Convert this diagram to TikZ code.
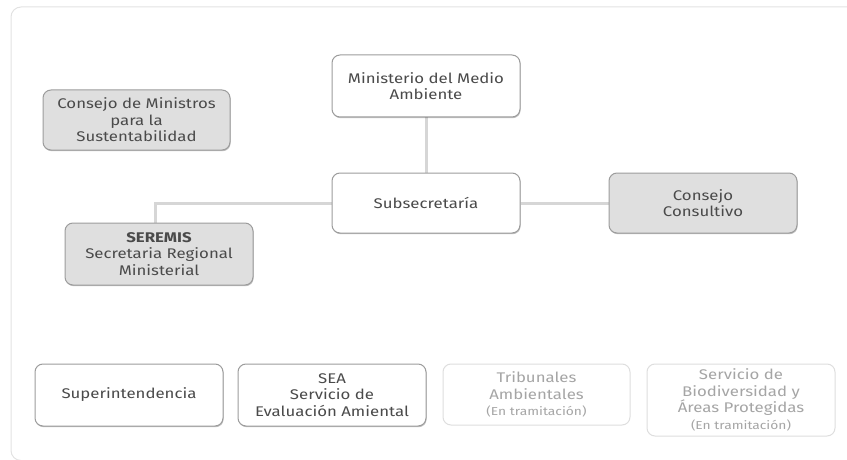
\documentclass[tikz,border=0pt]{standalone}
\usepackage{fontspec}
\setmainfont[FakeStretch=1.2]{Fira Sans}
\usetikzlibrary{backgrounds,shadows}
\definecolor{txt}{HTML}{4A4A4A}
\definecolor{txtlight}{HTML}{A5A5A5}
\definecolor{bordr}{HTML}{9C9C9C}
\definecolor{borderlight}{HTML}{DEDEDE}
\definecolor{grayfill}{HTML}{DFDFDF}
\definecolor{conn}{HTML}{D6D6D6}
\definecolor{frame}{HTML}{E2E2E2}
\tikzset{
  box/.style={draw=bordr, line width=1pt, rounded corners=8pt, fill=white,
    align=center, text=txt, font=\fontsize{14}{16.5}\selectfont,
    minimum width=188pt, inner sep=2pt,
    drop shadow={shadow xshift=0.6pt, shadow yshift=-1.2pt, opacity=0.25, fill=black}},
  graybox/.style={box, fill=grayfill},
  lightbox/.style={draw=borderlight, line width=1pt, rounded corners=8pt, fill=white,
    align=center, text=txtlight, font=\fontsize{14}{16.5}\selectfont,
    minimum width=188pt, inner sep=2pt},
  link/.style={draw=conn, line width=3pt}
}
\begin{document}
\begin{tikzpicture}[x=1pt,y=-1pt]
\useasboundingbox (0,0) rectangle (847,460);
\begin{scope}
\clip (0,0) rectangle (847,460);
\draw[frame, line width=1pt, rounded corners=10pt] (11,7) rectangle (900,460.5);
\end{scope}

\node[box, minimum height=62pt] (mma) at (426,86) {Ministerio del Medio\\Ambiente};
\node[graybox, minimum height=60pt, minimum width=187pt] (cms) at (136.5,120) {Consejo de Ministros\\para la\\Sustentabilidad};
\node[box, minimum height=60pt] (sub) at (426,203) {Subsecretaría};
\node[graybox, minimum height=60pt] (cc) at (703,203) {Consejo\\Consultivo};
\node[graybox, minimum height=62pt] (ser) at (159,254) {\textbf{SEREMIS}\\Secretaria Regional\\Ministerial};

\node[box, minimum height=62pt] (sup) at (129,395) {Superintendencia};
\node[box, minimum height=62pt] (sea) at (332,395) {SEA\\Servicio de\\Evaluación Amiental};
\node[lightbox, minimum height=61pt, minimum width=187pt] (tri) at (536.5,394.5) {Tribunales\\Ambientales\\{\fontsize{11.5}{13}\selectfont (En tramitación)}};
\node[lightbox, minimum height=72pt] (sbap) at (741,400) {Servicio de\\Biodiversidad y\\Áreas Protegidas\\{\fontsize{11.5}{13}\selectfont (En tramitación)}};

\begin{scope}[on background layer]
\draw[link] (mma.south) -- (sub.north);
\draw[link] (sub.west) -| ([xshift=-4pt]ser.north);
\draw[link] (sub.east) -- (cc.west);
\end{scope}
\end{tikzpicture}
\end{document}
